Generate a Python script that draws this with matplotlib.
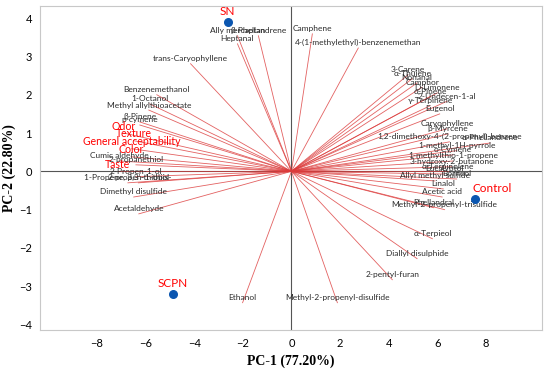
import matplotlib
matplotlib.use("Agg")
import matplotlib.pyplot as plt

# loadings (vector end points)
var_names = [
    "Camphene", "4-(1-methylethyl)-benzenemethan", "Ally mercaptan", "β-Phellandrene",
    "Heptanal", "trans-Caryophyllene", "Benzenemethanol", "1-Octanol",
    "Methyl allylthioacetate", "β-Pinene", "p-cymene", "Cumic aldehyde",
    "2-propanethiol", "2-Propen-1-ol", "1-Propene, 3,3'-thiobis-", "2-propen-1-thiol",
    "Dimethyl disulfide", "Acetaldehyde",
    "3-Carene", "α-Thujene", "Nonanal", "Camphor", "D-Limonene", "α-Pinene",
    "2-Undecen-1-al", "γ-Terpinene", "Eugenol", "Caryophyllene", "β-Myrcene",
    "1,2-dimethoxy-4-(2-propenyl)-benzene", "α-Phellandrene", "1-methyl-1H-pyrrole",
    "o-Cymene", "1-methylthio-1-propene", "3-hydroxy-2-butanone", "α-Terpinolene",
    "Eucalyptol", "Allyl methyl sulfide", "Borneol", "Linalol", "Acetic acid",
    "Phellandral", "Methyl-2-propenyl-trisulfide", "α-Terpieol", "Diallyl disulphide",
    "2-pentyl-furan", "Methyl-2-propenyl-disulfide", "Ethanol",
]
var_x = [
    0.86, 2.75, -2.22, -1.36,
    -2.22, -4.15, -5.54, -5.83,
    -5.87, -6.24, -6.24, -7.1,
    -6.4, -6.4, -6.73, -6.3,
    -6.49, -6.28,
    4.8, 4.97, 5.17, 5.38, 6.0, 5.7,
    6.4, 5.7, 6.1, 6.4, 6.45,
    6.5, 8.17, 6.8,
    6.65, 6.65, 6.6, 6.45,
    6.3, 5.9, 6.8, 6.25, 6.2,
    5.85, 6.3, 5.8, 5.17,
    4.15, 1.89, -2.01,
]
var_y = [
    3.59, 3.22, 3.54, 3.54,
    3.33, 2.81, 2.0, 1.76,
    1.6, 1.29, 1.21, 0.27,
    0.17, -0.14, -0.3, -0.3,
    -0.67, -1.11,
    2.52, 2.42, 2.31, 2.2, 2.05, 1.95,
    1.83, 1.71, 1.5, 1.11, 0.98,
    0.77, 0.74, 0.54,
    0.43, 0.27, 0.12, 0.0,
    -0.07, -0.25, -0.2, -0.46, -0.67,
    -0.95, -1.0, -1.76, -2.28,
    -2.83, -3.43, -3.43,
]

# sensory attributes (red labels)
attr_names = ["Odor", "Texture", "General acceptability", "Color", "Taste"]
attr_x = [-6.9, -6.49, -6.57, -6.6, -7.15]
attr_y = [1.0, 0.8, 0.59, 0.38, 0.0]

# samples (scores)
sample_names = ["SN", "SCPN", "Control"]
sample_x = [-2.63, -4.89, 7.56]
sample_y = [3.9, -3.2, -0.72]

red = "#dc3a3a"
lab_font = ["Lato", "DejaVu Sans"]

fig = plt.figure(figsize=(5.5, 3.69), dpi=100)
ax = fig.add_axes([0.073, 0.106, 0.912, 0.878])

ax.axhline(0, color="#555555", lw=0.8, zorder=1)
ax.axvline(0, color="#555555", lw=0.8, zorder=1)

for name, x, y in zip(var_names, var_x, var_y):
    ax.plot([0, x], [0, y], color=red, lw=0.6, alpha=0.8, zorder=2)
    ax.text(x, y + 0.04, name, ha="center", va="bottom", fontsize=6,
            color="#2b2b2b", family=lab_font, zorder=3)

for name, x, y in zip(attr_names, attr_x, attr_y):
    ax.plot([0, x], [0, y], color=red, lw=0.6, alpha=0.8, zorder=2)
    ax.text(x, y + 0.04, name, ha="center", va="bottom", fontsize=7.6,
            color="red", family=lab_font, zorder=3)

ax.scatter(sample_x, sample_y, s=30, color="#0b56b0", zorder=4)
for name, x, y in zip(sample_names, sample_x, sample_y):
    dx = 0.7 if name == "Control" else 0.0
    ax.text(x + dx, y + 0.12, name, ha="center", va="bottom", fontsize=8.5,
            color="red", family=lab_font, zorder=5)

ax.set_xlim(-10.34, 10.3)
ax.set_ylim(-4.14, 4.32)
ax.set_xticks([-8, -6, -4, -2, 0, 2, 4, 6, 8])
ax.set_yticks([-4, -3, -2, -1, 0, 1, 2, 3, 4])
ax.tick_params(length=0, labelsize=8, pad=6)
for lab in ax.get_xticklabels() + ax.get_yticklabels():
    lab.set_family(lab_font)

for sp in ax.spines.values():
    sp.set_color("#c8c8c8")
    sp.set_linewidth(0.8)

ax.set_xlabel("PC-1 (77.20%)", fontsize=10, fontweight="bold",
              family="Liberation Serif", labelpad=4)
ax.set_ylabel("PC-2 (22.80%)", fontsize=10, fontweight="bold",
              family="Liberation Serif", labelpad=2)

fig.savefig("out.png", dpi=100)
